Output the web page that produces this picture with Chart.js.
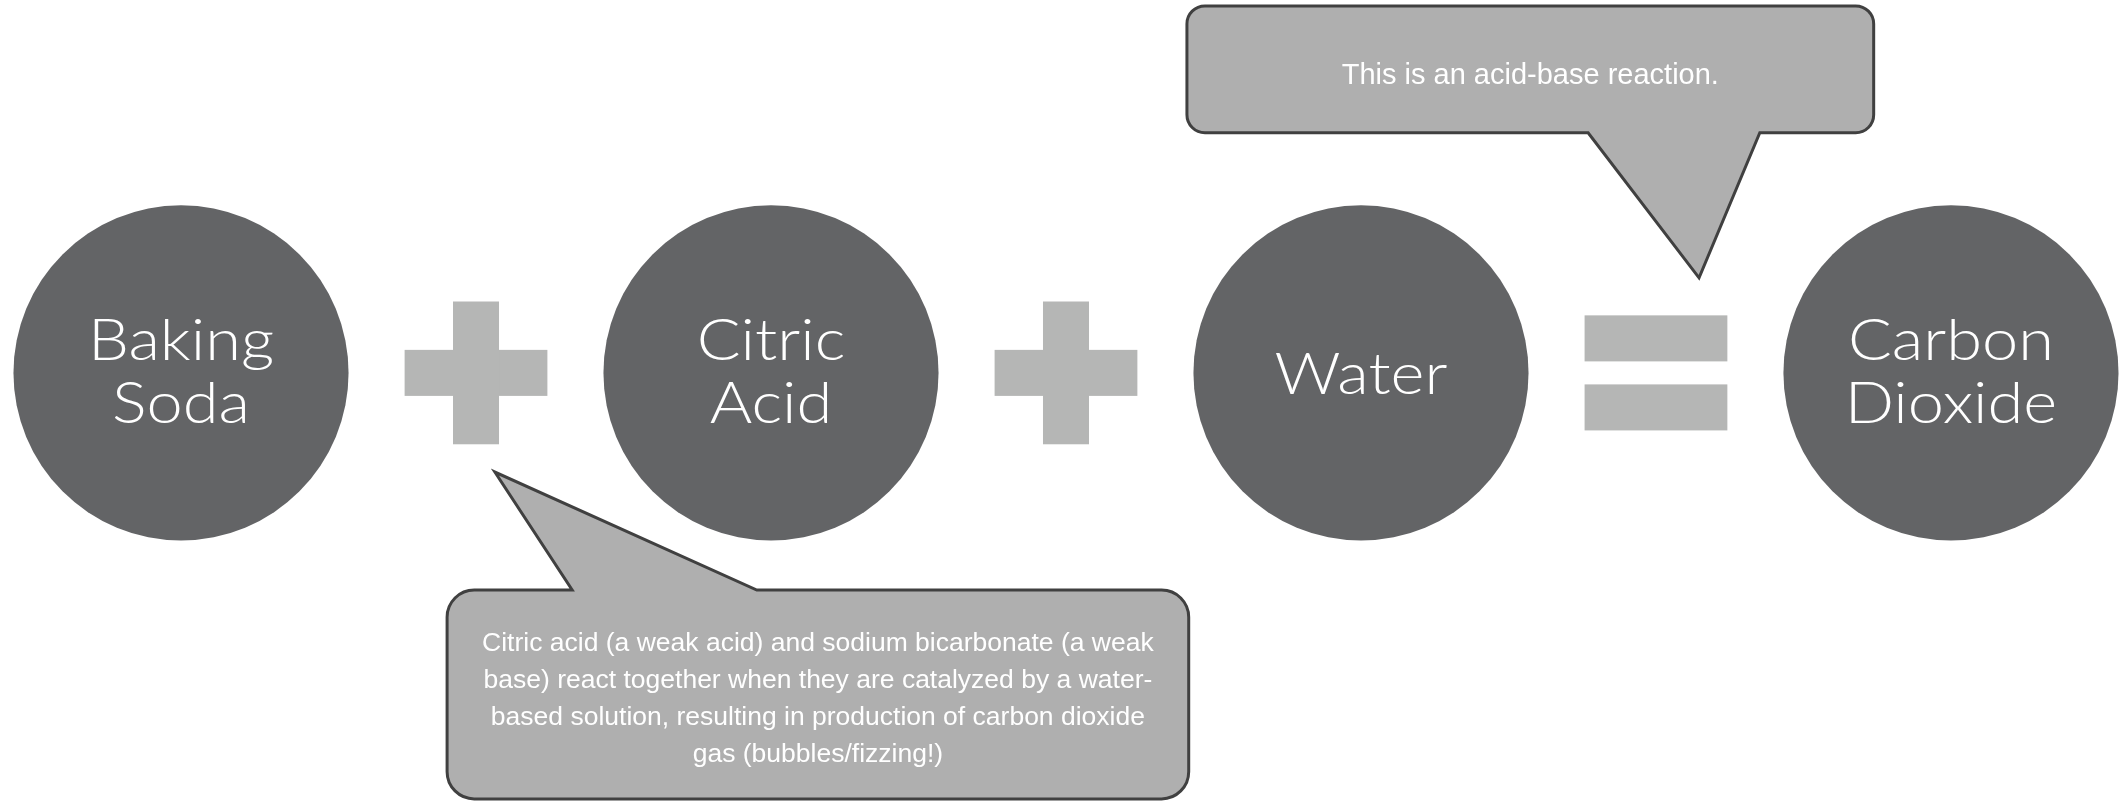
<!DOCTYPE html>
<html>
<head>
<meta charset="utf-8">
<script src="https://cdn.jsdelivr.net/npm/chart.js@4.4.1/dist/chart.umd.min.js"></script>
<style>
  html, body { margin: 0; padding: 0; background: #fff; }
  #wrap { width: 2119px; height: 801px; position: relative; }
</style>
</head>
<body>
<div id="wrap"><canvas id="chart"></canvas></div>
<script>
// steps of the reaction, one circle each (x = step index)
const steps = ["Baking Soda", "Citric Acid", "Water", "Carbon Dioxide"];
const stepLines = [["Baking", "Soda"], ["Citric", "Acid"], ["Water"], ["Carbon", "Dioxide"]];
const stepPos = [0, 1, 2, 3];
// operators between the circles
const operators = ["+", "+", "="];
const operatorPos = [0.5, 1.5, 2.5];
// callout texts
const noteTop = ["This is an acid-base reaction."];
const noteBottom = [
  "Citric acid (a weak acid) and sodium bicarbonate (a weak",
  "base) react together when they are catalyzed by a water-",
  "based solution, resulting in production of carbon dioxide",
  "gas (bubbles/fizzing!)"
];

// geometry, in axis units (1 unit = distance between two steps)
const R = 0.284;          // circle radius
const OP_HALF = 0.121;    // half width of + and =
const OP_BAR = 0.078;     // bar thickness
const EQ_OFF = 0.0585;    // offset of the two = bars from centre

const callouts = [
  { lines: noteTop, l: 1.705, r: 2.869, t: 0.622, b: 0.407, rad: 0.0305,
    tail: { side: "bottom", a: 2.385, b: 2.676, tx: 2.573, ty: 0.161 },
    textY: 0.503, pitch: 0, font: "29px 'Liberation Sans', Arial, sans-serif" },
  { lines: noteBottom, l: 0.451, r: 1.708, t: -0.368, b: -0.722, rad: 0.046,
    tail: { side: "top", a: 0.663, b: 0.976, tx: 0.532, ty: -0.168 },
    textY: -0.459, pitch: 0.0627, font: "26.5px 'Liberation Sans', Arial, sans-serif" }
];

function unitPx(chart) {
  const s = chart.scales.x;
  const px = s.getPixelForValue(1) - s.getPixelForValue(0);
  return isFinite(px) ? px : 0;
}

function calloutPath(ctx, l, t, r, b, rad, tail) {
  ctx.beginPath();
  ctx.moveTo(l + rad, t);
  if (tail.side === "top") {
    ctx.lineTo(tail.a, t);
    ctx.lineTo(tail.tx, tail.ty);
    ctx.lineTo(tail.b, t);
  }
  ctx.lineTo(r - rad, t);
  ctx.arcTo(r, t, r, t + rad, rad);
  ctx.lineTo(r, b - rad);
  ctx.arcTo(r, b, r - rad, b, rad);
  if (tail.side === "bottom") {
    ctx.lineTo(tail.b, b);
    ctx.lineTo(tail.tx, tail.ty);
    ctx.lineTo(tail.a, b);
  }
  ctx.lineTo(l + rad, b);
  ctx.arcTo(l, b, l, b - rad, rad);
  ctx.lineTo(l, t + rad);
  ctx.arcTo(l, t, l + rad, t, rad);
  ctx.closePath();
}

const diagramPlugin = {
  id: "diagram",
  afterDatasetsDraw(chart) {
    const ctx = chart.ctx;
    const xs = chart.scales.x, ys = chart.scales.y;
    const X = v => xs.getPixelForValue(v);
    const Y = v => ys.getPixelForValue(v);
    const u = unitPx(chart);
    ctx.save();

    // circle labels
    ctx.fillStyle = "#ffffff";
    ctx.textAlign = "center";
    ctx.textBaseline = "alphabetic";
    ctx.font = "300 58px Lato, 'Open Sans', sans-serif";
    const meta = chart.getDatasetMeta(0);
    meta.data.forEach((pt, i) => {
      const lines = stepLines[i];
      const base = lines.length === 1 ? [21] : [-13, 50];
      lines.forEach((txt, j) => {
        ctx.save();
        ctx.translate(pt.x, pt.y + base[j]);
        ctx.scale(1.12, 1);
        ctx.fillText(txt, 0, 0);
        ctx.restore();
      });
    });

    // operators
    ctx.fillStyle = "#b5b6b5";
    operators.forEach((op, i) => {
      const cx = X(operatorPos[i]), cy = Y(0);
      const h = OP_HALF * u, t = OP_BAR * u;
      if (op === "+") {
        ctx.fillRect(cx - h, cy - t / 2, 2 * h, t);
        ctx.fillRect(cx - t / 2, cy - h, t, 2 * h);
      } else {
        const off = EQ_OFF * u;
        ctx.fillRect(cx - h, cy - off - t / 2, 2 * h, t);
        ctx.fillRect(cx - h, cy + off - t / 2, 2 * h, t);
      }
    });

    // callouts
    callouts.forEach(c => {
      calloutPath(ctx, X(c.l), Y(c.t), X(c.r), Y(c.b), c.rad * u,
        { side: c.tail.side, a: X(c.tail.a), b: X(c.tail.b), tx: X(c.tail.tx), ty: Y(c.tail.ty) });
      ctx.fillStyle = "#afafaf";
      ctx.fill();
      ctx.lineWidth = 3;
      ctx.lineJoin = "miter";
      ctx.strokeStyle = "#404040";
      ctx.stroke();
      ctx.fillStyle = "#ffffff";
      ctx.font = c.font;
      ctx.textAlign = "center";
      ctx.textBaseline = "middle";
      const cx = X((c.l + c.r) / 2);
      c.lines.forEach((txt, j) => {
        ctx.fillText(txt, cx, Y(c.textY - j * c.pitch));
      });
    });

    ctx.restore();
  }
};

const chart = new Chart(document.getElementById("chart"), {
  type: "scatter",
  data: {
    labels: steps,
    datasets: [{
      label: "Steps",
      data: stepPos.map(x => ({ x: x, y: 0 })),
      backgroundColor: "#636466",
      borderWidth: 0,
      pointStyle: "circle",
      pointRadius: ctx => unitPx(ctx.chart) * R,
      pointHoverRadius: ctx => unitPx(ctx.chart) * R,
      showLine: false,
      clip: false
    }]
  },
  options: {
    responsive: true,
    maintainAspectRatio: false,
    animation: false,
    events: [],
    layout: { padding: 0 },
    plugins: { legend: { display: false }, tooltip: { enabled: false } },
    scales: {
      x: { type: "linear", display: false, min: -0.3068, max: 3.2848 },
      y: { type: "linear", display: false, min: -0.7256, max: 0.632 }
    }
  },
  plugins: [diagramPlugin]
});
</script>
</body>
</html>
